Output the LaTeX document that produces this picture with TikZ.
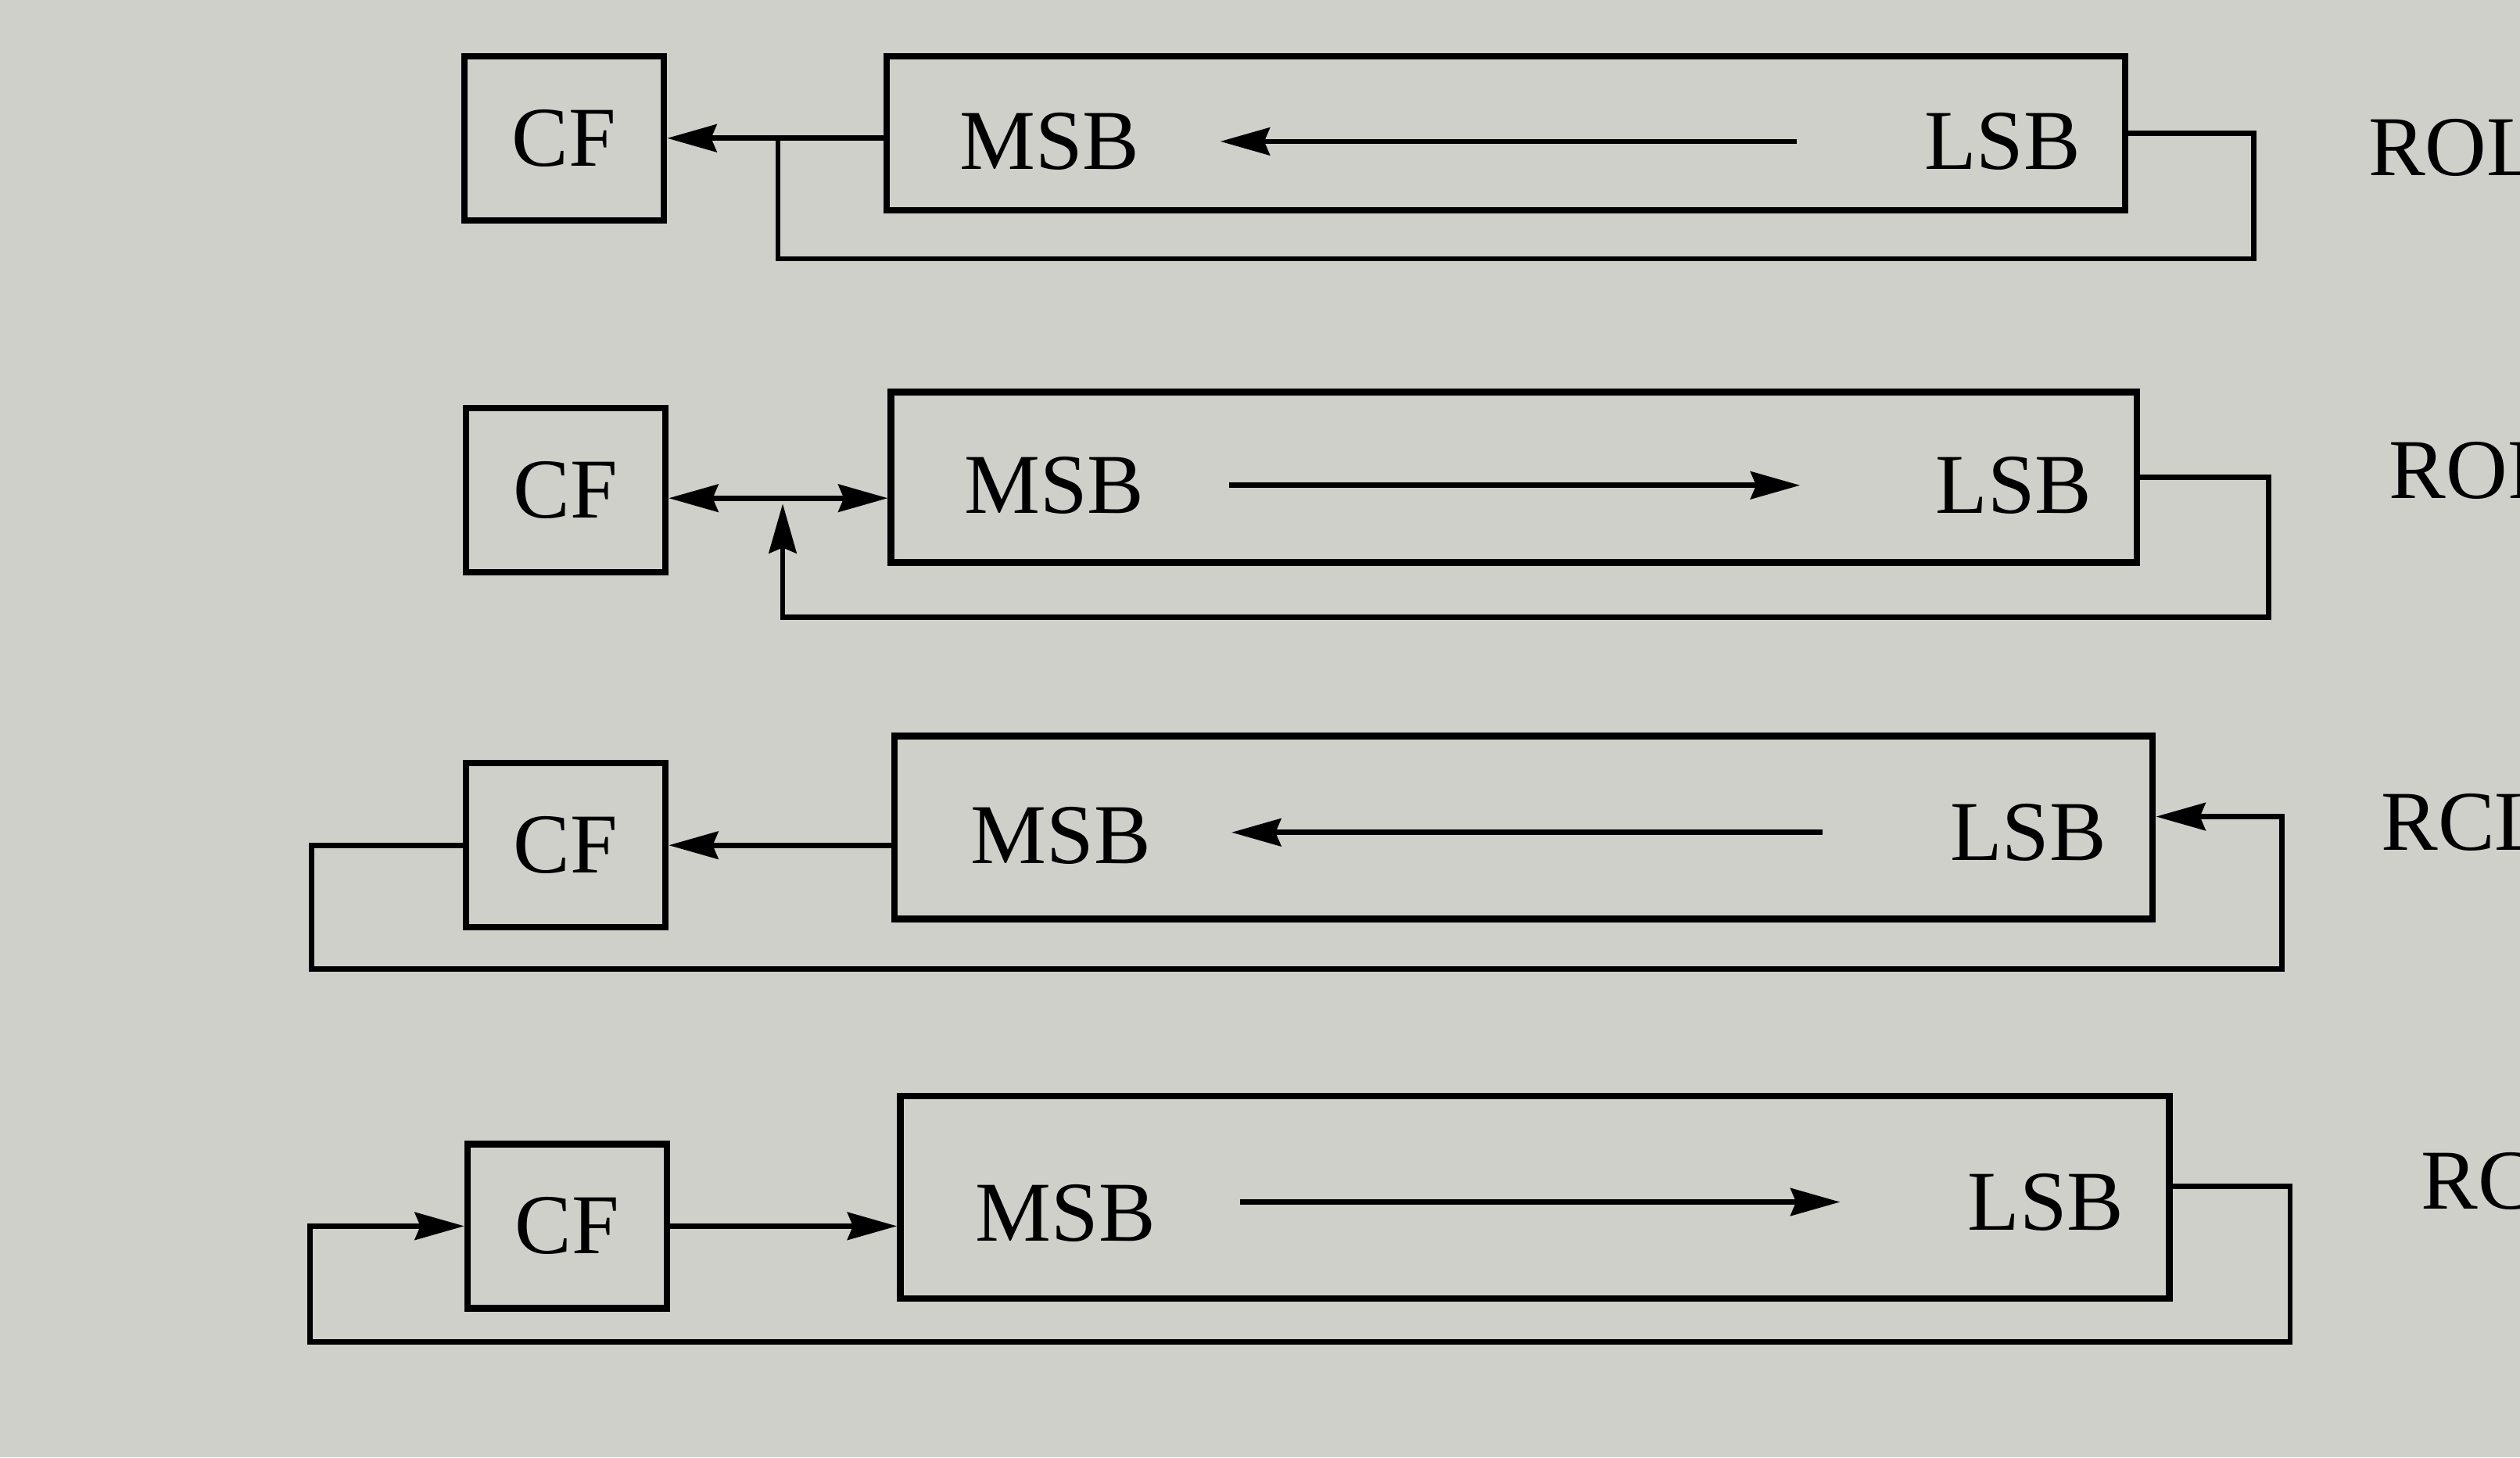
\documentclass[tikz,border=0pt]{standalone}
\usepackage{fontspec}
\setmainfont{Liberation Serif}
\usetikzlibrary{arrows.meta}
\definecolor{paper}{RGB}{208,208,203}

\begin{document}
\begin{tikzpicture}[x=0.02055cm, y=-0.02055cm, line width=1.9pt,
    font=\fontsize{31}{37}\selectfont,
    arr/.style={-{Stealth[length=18pt,width=10pt,inset=2pt]}},
    cfbox/.style={draw, line width=2.4pt, minimum width=2.55cm, minimum height=2.1cm, inner sep=0pt},
    reg/.style={draw, line width=2.4pt, inner sep=0pt},
    txt/.style={inner sep=0pt}]
  \fill[paper] (0,0) rectangle (1568,907);
  \useasboundingbox (0,0) rectangle (1568,907);

  % ROL
  \node[cfbox] (cf1) at (351,86) {CF};
  \node[reg, minimum width=15.84cm, minimum height=1.97cm] (reg1) at (937,83) {};
  \node[txt] (msb1) at (653,88) {MSB};
  \node[txt] (lsb1) at (1246,88) {LSB};
  \node[txt, anchor=west] (rol) at (1472,92) {ROL};
  \draw[arr, shorten <=1.6cm, shorten >=1cm] (lsb1.west) -- (msb1.east);
  \draw[arr] (reg1.west |- cf1.east) -- (cf1.east);
  \coordinate (b1) at (484,161);
  \draw (reg1.east) -- ++(78,0) |- (b1) -- (b1 |- cf1.east);

  % ROR
  \node[cfbox] (cf2) at (352,305) {CF};
  \node[reg, minimum width=15.93cm, minimum height=2.18cm] (reg2) at (942,297) {};
  \node[txt] (msb2) at (656,302) {MSB};
  \node[txt] (lsb2) at (1253,302) {LSB};
  \node[txt, anchor=west] (ror) at (1485,293) {ROR};
  \draw[arr, shorten <=1.05cm, shorten >=1.7cm] (msb2.east) -- (lsb2.west);
  \coordinate (j2) at (487,310);
  \coordinate (b2) at (487,384);
  \draw[arr] (j2) -- (j2 -| cf2.east);
  \draw[arr] (j2) -- (j2 -| reg2.west);
  \draw[arr, shorten >=2pt] (reg2.east) -- ++(80,0) |- (b2) -- (j2);

  % RCL
  \node[cfbox] (cf3) at (352,526) {CF};
  \node[reg, minimum width=16.09cm, minimum height=2.34cm] (reg3) at (948,515) {};
  \node[txt] (msb3) at (660,520) {MSB};
  \node[txt] (lsb3) at (1262,518) {LSB};
  \node[txt, anchor=west] (rcl) at (1480,512) {RCL};
  \draw[arr, shorten <=1.6cm, shorten >=1cm] (lsb3.west) -- (msb3.east |- lsb3.west);
  \draw[arr] (reg3.west |- cf3.east) -- (cf3.east);
  \coordinate (b3) at (1420,603);
  \draw[arr] (cf3.west) -- ++(-94,0) |- (b3) |- ([yshift=4pt]reg3.east);

  % RCR
  \node[cfbox] (cf4) at (353,763) {CF};
  \node[reg, minimum width=16.23cm, minimum height=2.59cm] (reg4) at (955,745) {};
  \node[txt] (msb4) at (663,755) {MSB};
  \node[txt] (lsb4) at (1273,748) {LSB};
  \node[txt, anchor=west] (rcr) at (1505,735) {RCR};
  \draw[arr, shorten <=1.05cm, shorten >=1.6cm] (msb4.east |- lsb4.west) -- (lsb4.west);
  \draw[arr] (cf4.east) -- (cf4.east -| reg4.west);
  \coordinate (b4) at (193,835);
  \draw[arr] ([yshift=4pt]reg4.east) -- ++(73,0) |- (b4) |- (cf4.west);
\end{tikzpicture}
\end{document}
